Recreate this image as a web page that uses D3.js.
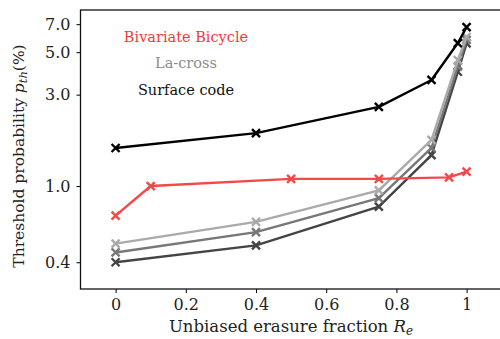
<!DOCTYPE html>
<html>
<head>
<meta charset="utf-8">
<script src="https://cdn.jsdelivr.net/npm/d3@7"></script>
<style>
  body { margin: 0; background: #fff; }
  text { font-family: "DejaVu Serif", serif; }
</style>
</head>
<body>
<div id="chart"></div>
<script>
// erasure fractions for each series
const xSurface = [0, 0.4, 0.75, 0.9, 0.975, 1.0];
const ySurface = [1.58, 1.89, 2.59, 3.58, 5.58, 6.75];

const xBicycle = [0, 0.1, 0.5, 0.75, 0.95, 1.0];
const yBicycle = [0.70, 1.0, 1.09, 1.09, 1.11, 1.19];

const xLacross = [0, 0.4, 0.75, 0.9, 0.975, 1.0];
const yLacrossLight = [0.50, 0.65, 0.95, 1.74, 4.55, 6.0];
const yLacrossMid = [0.45, 0.575, 0.865, 1.58, 4.2, 5.8];
const yLacrossDark = [0.40, 0.49, 0.78, 1.45, 3.95, 5.56];

const xTicks = [0, 0.2, 0.4, 0.6, 0.8, 1];
const xTickLabels = ['0', '0.2', '0.4', '0.6', '0.8', '1'];
const yTicks = [0.4, 1, 3, 5, 7];
const yTickLabels = ['0.4', '1.0', '3.0', '5.0', '7.0'];

const width = 500, height = 339;
const svg = d3.select('#chart').append('svg')
  .attr('width', width).attr('height', height);

const x = d3.scaleLinear().domain([-0.1, 1.1]).range([80.5, 501.7]);
const y = d3.scaleLog().domain([0.29, 8.3]).range([289, 10]);

// axes
const xAxis = d3.axisBottom(x).tickValues(xTicks)
  .tickFormat((d, i) => xTickLabels[i]).tickSizeOuter(0).tickSize(4).tickPadding(6);
const yAxis = d3.axisLeft(y).tickValues(yTicks)
  .tickFormat((d, i) => yTickLabels[i]).tickSizeOuter(0).tickSize(4).tickPadding(6);

const gx = svg.append('g').attr('transform', 'translate(0,289)').call(xAxis);
const gy = svg.append('g').attr('transform', 'translate(80.5,0)').call(yAxis);
[gx, gy].forEach(g => {
  g.select('.domain').remove();
  g.selectAll('.tick line').attr('stroke', '#000').attr('stroke-width', 1);
  g.selectAll('.tick text').attr('fill', '#222').style('font-size', '16px')
    .style('font-family', '"DejaVu Serif", serif');
});

// frame
svg.append('rect')
  .attr('x', 80.5).attr('y', 10)
  .attr('width', x(1.1) - 80.5).attr('height', 279)
  .attr('fill', 'none').attr('stroke', '#111').attr('stroke-width', 1.3);

const line = d3.line().x(d => x(d[0])).y(d => y(d[1]));

function series(xs, ys, color, w) {
  const pts = xs.map((v, i) => [v, ys[i]]);
  svg.append('path').datum(pts)
    .attr('d', line)
    .attr('fill', 'none').attr('stroke', color).attr('stroke-width', w)
    .attr('stroke-linejoin', 'round');
  const s = 4;
  svg.append('g').selectAll('path').data(pts).enter().append('path')
    .attr('d', d => {
      const cx = x(d[0]), cy = y(d[1]);
      return `M${cx - s},${cy - s}L${cx + s},${cy + s}M${cx - s},${cy + s}L${cx + s},${cy - s}`;
    })
    .attr('stroke', color).attr('stroke-width', 2.4).attr('fill', 'none');
}

series(xLacross, yLacrossDark, '#444444', 2.4);
series(xLacross, yLacrossMid, '#777777', 2.4);
series(xLacross, yLacrossLight, '#aaaaaa', 2.4);
series(xBicycle, yBicycle, '#f54848', 2.4);
series(xSurface, ySurface, '#000000', 2.4);

// labels inside plot
const labels = [
  { text: 'Bivariate Bicycle', color: '#f03c3c', y: 42 },
  { text: 'La-cross', color: '#8c8c8c', y: 68 },
  { text: 'Surface code', color: '#111111', y: 95 }
];
svg.selectAll('.lbl').data(labels).enter().append('text')
  .attr('x', 186).attr('y', d => d.y)
  .attr('text-anchor', 'middle')
  .attr('fill', d => d.color)
  .style('font-size', '14.5px')
  .text(d => d.text);

// x label
const xl = svg.append('text')
  .attr('x', 291).attr('y', 332)
  .attr('text-anchor', 'middle').attr('fill', '#222')
  .style('font-size', '16.5px');
xl.append('tspan').text('Unbiased erasure fraction ');
xl.append('tspan').style('font-style', 'italic').text('R');
xl.append('tspan').attr('baseline-shift', '-25%').style('font-size', '12px').style('font-style', 'italic').text('e');

// y label
const yl = svg.append('text')
  .attr('transform', 'translate(24,156) rotate(-90)')
  .attr('text-anchor', 'middle').attr('fill', '#222')
  .style('font-size', '15.5px');
yl.append('tspan').text('Threshold probability ');
yl.append('tspan').style('font-style', 'italic').text('p');
yl.append('tspan').attr('baseline-shift', '-25%').style('font-size', '11.5px').style('font-style', 'italic').text('th');
yl.append('tspan').text('(%)');
</script>
</body>
</html>
